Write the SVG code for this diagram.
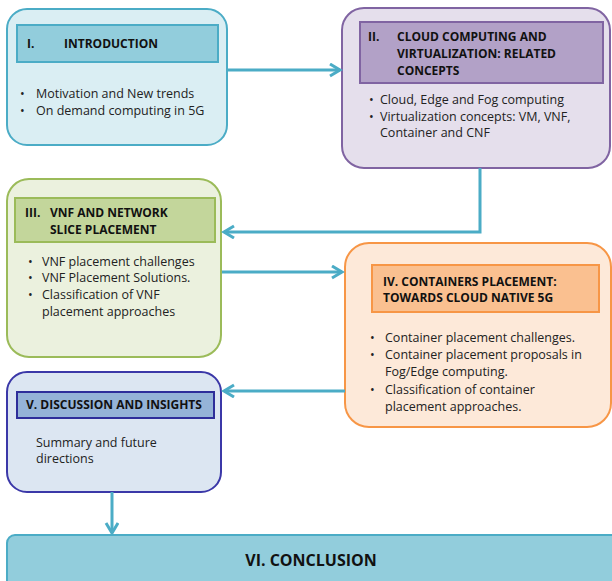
<svg xmlns="http://www.w3.org/2000/svg" width="612" height="581" viewBox="0 0 612 581">
<defs>
<marker id="ah" markerUnits="userSpaceOnUse" markerWidth="14" markerHeight="16" refX="11" refY="7" orient="auto">
<path d="M1,1 L11,7 L1,13" fill="none" stroke="#4BACC6" stroke-width="3"/>
</marker>
</defs>
<style>
text{font-family:"Open Sans","Liberation Sans",sans-serif;font-size:12.5px;fill:#222}
.h{font-weight:bold;font-size:12px;fill:#111}
.c{stroke:#4BACC6;stroke-width:3;fill:none;marker-end:url(#ah)}
</style>
<rect width="612" height="581" fill="#fff"/>
<g id="n1">
<rect x="7" y="9" width="220" height="136" rx="20" fill="#DAEEF3" stroke="#4BACC6" stroke-width="2"/>
<rect x="17" y="25" width="201" height="37" fill="#92CDDC" stroke="#4BACC6" stroke-width="2"/>
<text class="h" x="27" y="48">I.</text><text class="h" x="64" y="48">INTRODUCTION</text>
<text x="20" y="98">•</text><text x="36" y="98">Motivation and New trends</text>
<text x="20" y="115">•</text><text x="36" y="115">On demand computing in 5G</text>
</g>
<g id="n2">
<rect x="342" y="8" width="268" height="160" rx="22" fill="#E5DFEC" stroke="#8064A2" stroke-width="2"/>
<rect x="360" y="22" width="243" height="61" fill="#B2A1C7" stroke="#8064A2" stroke-width="2"/>
<text class="h" x="368" y="41">II.</text>
<text class="h" x="397" y="41">CLOUD COMPUTING AND</text>
<text class="h" x="397" y="58">VIRTUALIZATION: RELATED</text>
<text class="h" x="397" y="75">CONCEPTS</text>
<text x="369" y="104">•</text><text x="380" y="104">Cloud, Edge and Fog computing</text>
<text x="369" y="121">•</text><text x="380" y="121">Virtualization concepts: VM, VNF,</text>
<text x="380" y="137">Container and CNF</text>
</g>
<g id="n3">
<rect x="7" y="179" width="214" height="178" rx="22" fill="#EBF1DE" stroke="#9BBB59" stroke-width="2"/>
<rect x="15" y="198" width="200" height="44" fill="#C3D69B" stroke="#9BBB59" stroke-width="2"/>
<text class="h" x="25" y="217">III.</text>
<text class="h" x="50" y="217">VNF AND NETWORK</text>
<text class="h" x="50" y="234">SLICE PLACEMENT</text>
<text x="28" y="266">•</text><text x="42" y="266">VNF placement challenges</text>
<text x="28" y="282">•</text><text x="42" y="282">VNF Placement Solutions.</text>
<text x="28" y="299">•</text><text x="42" y="299">Classification of VNF</text>
<text x="42" y="316">placement approaches</text>
</g>
<g id="n4">
<rect x="345" y="243" width="266" height="184" rx="24" fill="#FDE9D9" stroke="#F79646" stroke-width="2"/>
<rect x="372" y="265" width="227" height="47" fill="#FAC090" stroke="#F79646" stroke-width="2"/>
<text class="h" x="383" y="286">IV. CONTAINERS PLACEMENT:</text>
<text class="h" x="383" y="302">TOWARDS CLOUD NATIVE 5G</text>
<text x="370" y="342">•</text><text x="385" y="342">Container placement challenges.</text>
<text x="370" y="359">•</text><text x="385" y="359">Container placement proposals in</text>
<text x="385" y="376">Fog/Edge computing.</text>
<text x="370" y="394">•</text><text x="385" y="394">Classification of container</text>
<text x="385" y="411">placement approaches.</text>
</g>
<g id="n5">
<rect x="7" y="372" width="214" height="120" rx="20" fill="#DCE6F2" stroke="#3B38A8" stroke-width="2"/>
<rect x="17" y="392" width="197" height="26" fill="#95B3D7" stroke="#2E2E9A" stroke-width="2"/>
<text class="h" x="26" y="409">V. DISCUSSION AND INSIGHTS</text>
<text x="36" y="447">Summary and future</text>
<text x="36" y="463">directions</text>
</g>
<g id="n6">
<rect x="7" y="535" width="612" height="60" rx="8" fill="#92CDDC" stroke="#4BACC6" stroke-width="2"/>
<text class="h" x="311" y="566" text-anchor="middle" style="font-size:16px">VI. CONCLUSION</text>
</g>
<g id="connectors">
<path class="c" d="M227,70 H340"/>
<path class="c" d="M480,168 V232 H224"/>
<path class="c" d="M222,272 H342"/>
<path class="c" d="M345,391 H224"/>
<path class="c" d="M112,492 V533"/>
</g>
</svg>
